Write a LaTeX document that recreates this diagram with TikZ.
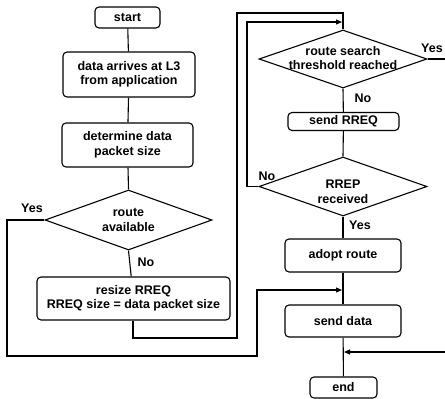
\documentclass[tikz,border=0pt]{standalone}
\usepackage{fontspec}
\setmainfont{Liberation Sans}
\usetikzlibrary{shapes.geometric,arrows.meta}
\begin{document}
\begin{tikzpicture}[x=1pt,y=-1pt,
  every node/.style={font=\fontsize{12.5}{14.5}\selectfont\bfseries, align=center},
  box/.style={draw, line width=1.1pt, rounded corners=4pt, inner sep=0pt},
  dia/.style={draw, line width=1.1pt, diamond, inner sep=0pt},
  lbl/.style={inner sep=0pt},
  conn/.style={line width=1.1pt},
  arr/.style={line width=1.1pt, -{Triangle[length=6pt,width=5pt]}}]
\useasboundingbox (0,0) rectangle (445,399);
% left column
\node[box, minimum width=65, minimum height=21] (start) at (127.5,17.5) {start};
\node[box, minimum width=132, minimum height=45] (arrive) at (129,74.5) {data arrives at L3\\from application};
\node[box, minimum width=131, minimum height=44] (size) at (127.5,145) {determine data\\packet size};
\node[dia, minimum width=167, minimum height=60] (avail) at (128.5,220) {};
\node[lbl] (availt) at (avail) {route\\available};
\node[box, minimum width=193, minimum height=43] (resize) at (133.5,298.5) {resize RREQ\\RREQ size = data packet size};
% right column
\node[dia, minimum width=168, minimum height=58] (thresh) at (343,59) {};
\node[lbl] (thresht) at (343,58) {route search\\threshold reached};
\node[box, minimum width=111, minimum height=18] (send) at (343.5,121.5) {send RREQ};
\node[dia, minimum width=168, minimum height=59] (rrep) at (343,186.5) {};
\node[lbl] (rrept) at (343,192) {RREP\\received};
\node[box, minimum width=116, minimum height=33] (adopt) at (343,255.5) {adopt route};
\node[box, minimum width=116, minimum height=32] (data) at (343,321) {send data};
\node[box, minimum width=67, minimum height=21] (end) at (343.5,387.5) {end};
% junction coordinates
\coordinate (jA) at (343,290);
\coordinate (jB) at (343,352);
\coordinate (jC) at (343,22);
% labels
\node[lbl] (lyes1) at (32,208) {Yes};
\node[lbl] (lno1) at (146,262) {No};
\node[lbl] (lyes2) at (432,48) {Yes};
\node[lbl] (lno2) at (363,98) {No};
\node[lbl] (lno3) at (267,176) {No};
\node[lbl] (lyes3) at (360,225) {Yes};
% connectors
\draw[conn] (start) -- (arrive);
\draw[conn] (arrive) -- (size);
\draw[conn] (size) -- (avail.north);
\draw[conn] (avail.south) -- (resize);
\draw[conn] (resize.south -| 133,0) -- (133,338) -- (237,338) -- (237,13) -- (343,13) -- (thresh.north);
\draw[conn] (thresh.south) -- (send);
\draw[conn] (send) -- (rrep.north);
\draw[conn] (rrep.south) -- (adopt);
\draw[conn] (adopt) -- (data);
\draw[conn] (data) -- (end);
\draw[arr] (avail.west) -- (7,220) -- (7,356) -- (257,356) -- (257,290) -- ([xshift=-1pt]jA);
\draw[arr] (rrep.west) -- (247,186.5) -- (247,22) -- ([xshift=-1pt]jC);
\draw[arr] (thresh.east) -- (449,59) -- (449,352) -- ([xshift=1pt]jB);
\end{tikzpicture}
\end{document}
